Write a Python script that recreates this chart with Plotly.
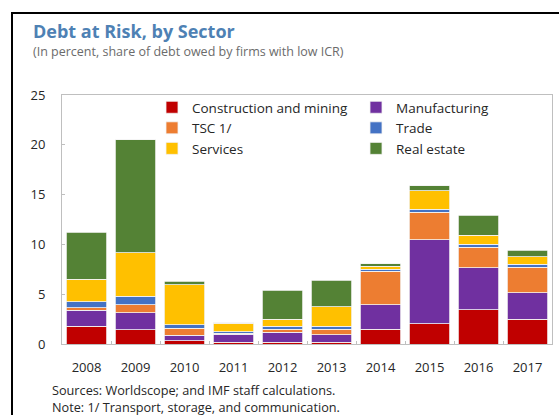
import plotly.graph_objects as go

years = ["2008", "2009", "2010", "2011", "2012", "2013", "2014", "2015", "2016", "2017"]

construction = [1.8, 1.45, 0.35, 0.2, 0.2, 0.2, 1.5, 2.05, 3.45, 2.5]
manufacturing = [1.6, 1.7, 0.55, 0.77, 1.0, 0.73, 2.43, 8.4, 4.23, 2.63]
tsc = [0.23, 0.8, 0.7, 0.1, 0.3, 0.53, 3.37, 2.77, 2.03, 2.6]
trade = [0.6, 0.83, 0.33, 0.17, 0.27, 0.33, 0.23, 0.33, 0.33, 0.3]
services = [2.27, 4.37, 4.0, 0.83, 0.73, 1.93, 0.27, 1.83, 0.9, 0.73]
real_estate = [4.7, 11.37, 0.37, 0.05, 2.9, 2.7, 0.27, 0.53, 2.0, 0.63]

series = [
    ("Construction and mining", construction, "#C00000", "legend"),
    ("Manufacturing", manufacturing, "#7030A0", "legend2"),
    ("TSC 1/", tsc, "#ED7D31", "legend"),
    ("Trade", trade, "#4472C4", "legend2"),
    ("Services", services, "#FFC000", "legend"),
    ("Real estate", real_estate, "#548235", "legend2"),
]

FONT = "Open Sans"
W, H = 559, 415
L, R, T, B = 62, 7, 95, 71
PW, PH = W - L - R, H - T - B


def px(x):
    return (x - L) / PW


def py(y):
    return (H - B - y) / PH


fig = go.Figure()
for name, vals, color, leg in series:
    fig.add_trace(go.Bar(
        x=years, y=vals, name=name, legend=leg,
        marker=dict(color=color, line=dict(color="#F2F2F2", width=0.8)),
    ))

legend_style = dict(yanchor="top", xanchor="left", traceorder="normal",
                    bgcolor="rgba(0,0,0,0)", tracegroupgap=0, itemclick=False,
                    font=dict(size=13.5, color="#262626"))

fig.update_layout(
    width=W, height=H,
    margin=dict(l=L, r=R, t=T, b=B, pad=0),
    barmode="stack", bargap=0.18,
    plot_bgcolor="white", paper_bgcolor="white",
    font=dict(family=FONT, size=13, color="#262626"),
    showlegend=True,
    legend=dict(x=px(152), y=py(92), **legend_style),
    legend2=dict(x=px(356), y=py(92), **legend_style),
    xaxis=dict(showline=True, linecolor="#BFBFBF", linewidth=1, mirror=True,
               ticks="inside", tickson="boundaries", ticklen=3, tickcolor="#BFBFBF",
               ticklabelstandoff=11,
               tickfont=dict(size=13, color="#262626"), showgrid=False),
    yaxis=dict(range=[0, 25], dtick=5, showline=True, linecolor="#BFBFBF", linewidth=1,
               mirror=True, ticks="inside", ticklen=3, tickcolor="#BFBFBF",
               ticklabelstandoff=13,
               tickfont=dict(size=13, color="#262626"), showgrid=False, zeroline=False),
)

annotations = [
    dict(text="<b>Debt at Risk, by Sector</b>", x=px(31), y=py(30.5),
         font=dict(size=18, color="#4E81B4", family=FONT)),
    dict(text="(In percent, share of debt owed by firms with low ICR)", x=px(31), y=py(51),
         font=dict(size=12.5, color="#6B6B6B", family=FONT)),
    dict(text=("Sources: Worldscope; and IMF staff calculations.<br>"
               "Note: 1/ Transport, storage, and communication."),
         x=px(50), y=py(398.5), align="left",
         font=dict(size=12.7, color="#262626", family=FONT)),
]
for a in annotations:
    fig.add_annotation(xref="paper", yref="paper", xanchor="left", yanchor="middle",
                       showarrow=False, **a)

# outer black frame around the whole exhibit
fig.add_shape(type="rect", xref="paper", yref="paper",
              x0=px(12), x1=px(575), y0=py(430), y1=py(13),
              line=dict(color="black", width=2), layer="above")

fig.write_html("out.html")
